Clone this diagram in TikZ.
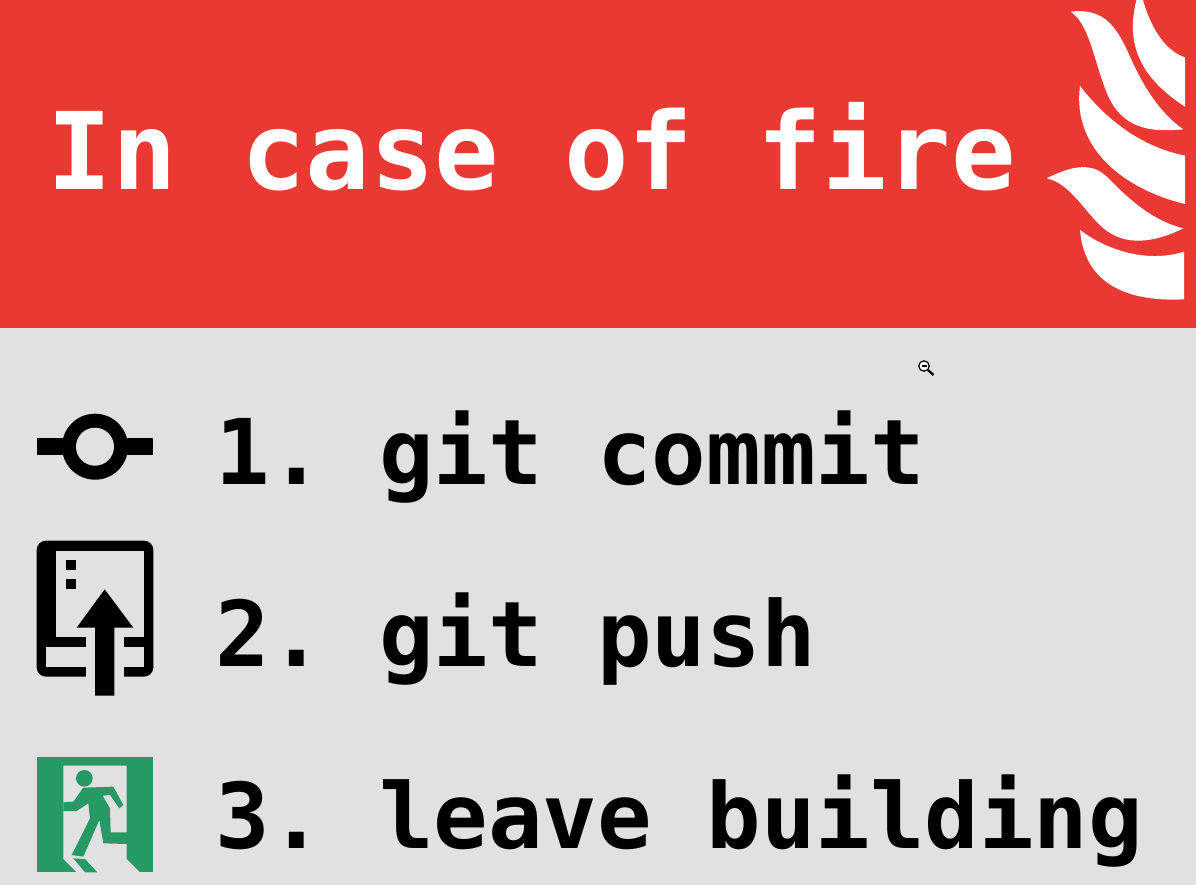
\documentclass[tikz,border=0pt]{standalone}
\usepackage{fontspec}
\setmonofont{DejaVu Sans Mono}
\definecolor{firered}{RGB}{233,57,50}
\definecolor{wallgrey}{RGB}{225,225,225}
\definecolor{exitgreen}{RGB}{38,153,100}
\tikzset{
  titletext/.style={anchor=base west,inner sep=0pt,text=white,font=\ttfamily\bfseries\fontsize{80.4}{90}\selectfont},
  steptext/.style={anchor=base west,inner sep=0pt,text=black,font=\ttfamily\bfseries\fontsize{68}{80}\selectfont},
  flame/.style={fill=white},
  exitshape/.style={fill=exitgreen},
}
\begin{document}
\begin{tikzpicture}[x=.75pt,y=-.75pt]
  \useasboundingbox (0,0) rectangle (1196,885);
  \clip (0,0) rectangle (1196,885);
  \fill[wallgrey] (0,0) rectangle (1196,885);
  \fill[firered] (0,0) rectangle (1196,327.5);
  \node[titletext] (title) at (47.5,189) {In case of fire};
  % flames
  \begin{scope}[shift={(1030,0)},x=.25pt,y=-.25pt]
    \fill[flame] (338,-3) .. controls (355,60) and (395,150) .. (465,172) -- (465,320) .. controls (350,245) and (280,150) .. (320,-3) -- cycle;
    \fill[flame] (122,35) .. controls (225,22) and (262,85) .. (300,170) .. controls (340,260) and (390,340) .. (460,388) .. controls (340,400) and (265,375) .. (225,265) .. controls (190,170) and (175,70) .. (122,35) -- cycle;
    \fill[flame] (150,258) .. controls (225,355) and (330,440) .. (465,467) -- (465,612) .. controls (290,570) and (125,450) .. (150,258) -- cycle;
    \fill[flame] (50,535) .. controls (110,505) and (180,480) .. (230,530) .. controls (290,590) and (360,660) .. (460,685) .. controls (380,725) and (285,745) .. (215,680) .. controls (160,630) and (120,550) .. (50,535) -- cycle;
    \fill[flame] (150,690) .. controls (230,750) and (350,790) .. (462,755) -- (462,898) .. controls (320,905) and (165,870) .. (150,690) -- cycle;
  \end{scope}
  % zoom cursor
  \draw[line width=.9pt,fill=white] (924,366) circle (5.2);
  \draw[line width=.9pt] (921.5,366) -- (926.5,366);
  \draw[line width=1.7pt] (928,370) -- (933.5,375);
  % commit
  \fill (36.7,438.3) rectangle (153.3,455);
  \fill (95,446.7) circle (33);
  \fill[wallgrey] (95,446.7) circle (19);
  \node[steptext] (commit) at (215,484) {1. git commit};
  % push
  \begin{scope}[shift={(20,530)},x=.25pt,y=-.25pt]
    \fill[rounded corners=7pt] (50,32) rectangle (400,440);
    \fill[wallgrey] (108,62) rectangle (372,322);
    \fill[wallgrey] (78,352) rectangle (372,410);
    \fill[wallgrey] (197,320) rectangle (312,442);
    \fill (138,90) rectangle (168,120);
    \fill (138,148) rectangle (168,178);
    \fill (254,178) -- (340,293) -- (283,293) -- (283,497) -- (225,497) -- (225,293) -- (170,293) -- cycle;
  \end{scope}
  \node[steptext] (push) at (215,666) {2. git push};
  % exit
  \begin{scope}[shift={(20,745)},x=.25pt,y=-.25pt]
    \fill[exitshape] (50,35) rectangle (400,382);
    \fill[wallgrey] (130,62) -- (320,62) -- (320,342) -- (360,382) -- (170,382) -- (130,342) -- cycle;
    \fill[exitshape] (193,100) circle (25);
    \fill[exitshape] (130,172) -- (160,170) -- (190,128) -- (280,125) -- (310,180) -- (298,190) -- (270,150) -- (248,152) -- (270,190) -- (272,262) -- (335,262) -- (355,298) -- (250,295) -- (238,225) -- (190,335) -- (155,330) -- (210,220) -- (205,175) -- (170,198) -- (130,198) -- cycle;
    \fill[exitshape] (160,340) -- (195,342) -- (232,382) -- (195,382) -- cycle;
  \end{scope}
  \node[steptext] (leave) at (215,848) {3. leave building};
\end{tikzpicture}
\end{document}
